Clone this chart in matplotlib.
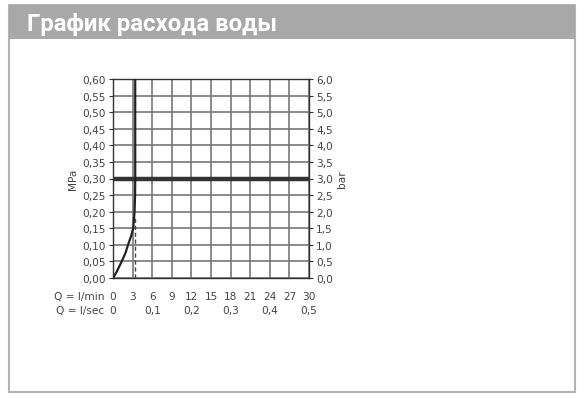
import matplotlib
matplotlib.use('Agg')
import matplotlib.pyplot as plt
from matplotlib.patches import Rectangle

# flow curve (l/min vs MPa)
flow_lpm = [0, 0.6, 1.33, 1.9, 2.3, 2.75, 3.1, 3.3, 3.38, 3.4, 3.4]
pressure_mpa = [0, 0.02, 0.05, 0.075, 0.10, 0.125, 0.15, 0.20, 0.25, 0.30, 0.60]
dash_x = [3.4, 3.4]
dash_y = [0.0, 0.18]
ref_pressure = 0.30

lpm_ticks = [0, 3, 6, 9, 12, 15, 18, 21, 24, 27, 30]
lsec_ticks = [0, 6, 12, 18, 24, 30]
lsec_labels = ['0', '0,1', '0,2', '0,3', '0,4', '0,5']
mpa_ticks = [i * 0.05 for i in range(13)]
title = 'График расхода воды'

W, H = 586, 402
fig = plt.figure(figsize=(W / 100, H / 100), dpi=100)
fig.patch.set_facecolor('white')

# frame and header band
fig.patches.append(Rectangle((9.5 / W, 1 - 393 / H), 565 / W, 387 / H, transform=fig.transFigure,
                             facecolor='white', edgecolor='#b4b4b4', linewidth=1.5, zorder=-3))
fig.patches.append(Rectangle((9.5 / W, 1 - 39.5 / H), 565 / W, 33.5 / H, transform=fig.transFigure,
                             facecolor='#a8a8a8', edgecolor='none', zorder=-2))
fig.text(27 / W, 1 - 31.5 / H, title, color='white', fontsize=17.3, fontweight='bold',
         family='Roboto', va='baseline', ha='left')

ax = fig.add_axes([113 / W, 1 - 279 / H, 196 / W, 199 / H])
ax.set_xlim(0, 30)
ax.set_ylim(0, 0.6)
ax.set_xticks(lpm_ticks)
ax.set_yticks(mpa_ticks)
ax.grid(True, color='#777777', linewidth=1.2)
ax.set_axisbelow(True)
for s in ax.spines.values():
    s.set_color('#333333')
    s.set_linewidth(1.0)

ax.axhline(ref_pressure, color='#333333', linewidth=3.2, zorder=3)
ax.plot(flow_lpm, pressure_mpa, color='#222222', linewidth=1.6, zorder=4)
ax.plot(dash_x, dash_y, color='#444444', linewidth=1.0, linestyle=(0, (3, 2)), zorder=4)

lab = dict(fontsize=7.6, color='#444444', family='DejaVu Sans')
ax.set_yticklabels([('%.2f' % v).replace('.', ',') for v in mpa_ticks], **lab)
ax.tick_params(axis='y', direction='out', length=3, width=0.8, color='#333333', pad=2)
ax.tick_params(axis='x', length=0, labelbottom=False)
ax.set_ylabel('MPa', labelpad=3, **lab)

ax2 = ax.twinx()
ax2.set_ylim(0, 6)
ax2.set_yticks([i * 0.5 for i in range(13)])
ax2.set_yticklabels([('%.1f' % (i * 0.5)).replace('.', ',') for i in range(13)], **lab)
ax2.tick_params(axis='y', direction='out', length=3, width=0.8, color='#333333', pad=2)
ax2.set_ylabel('bar', rotation=90, labelpad=3, **lab)
for s in ax2.spines.values():
    s.set_visible(False)

# two flow scales under the chart: l/min and l/sec
row1, row2 = -12.7, -22.8
for x in lpm_ticks:
    ax.annotate(str(x), xy=(x, 0), xytext=(0, row1), textcoords='offset points',
                ha='center', va='center', **lab)
for x, t in zip(lsec_ticks, lsec_labels):
    ax.annotate(t, xy=(x, 0), xytext=(0, row2), textcoords='offset points',
                ha='center', va='center', **lab)
ax.annotate('Q = l/min', xy=(0, 0), xytext=(-6, row1), textcoords='offset points',
            ha='right', va='center', **lab)
ax.annotate('Q = l/sec', xy=(0, 0), xytext=(-6, row2), textcoords='offset points',
            ha='right', va='center', **lab)

fig.savefig('out.png', dpi=100)
